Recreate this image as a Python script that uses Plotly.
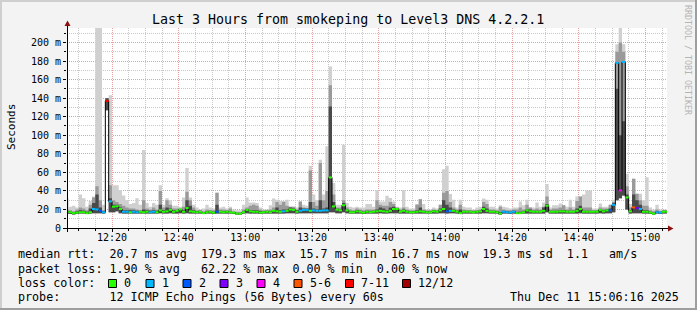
import plotly.graph_objects as go
import pandas as pd

# ---------------- data ----------------
TITLE = "Last 3 Hours from smokeping to Level3 DNS 4.2.2.1"
t_start = pd.Timestamp("2025-12-11 12:06:30")
t_end = pd.Timestamp("2025-12-11 15:06:30")

# median rtt per minute (ms)
median = [
    17.5, 17, 16, 16.5, 17, 17, 16, 17, 20.5, 20,
    18.5, 17, 137, 28.7, 23, 23.5, 20.5, 17.5, 17.5, 17,
    17.5, 17, 17.5, 17, 17.5, 17, 17.5, 17, 19, 17.5,
    18, 19.5, 17.5, 18.5, 20, 17.5, 21.5, 18, 17.5, 17,
    17.5, 16, 17, 17.5, 16.5, 17.5, 17.5, 17, 17.5, 17,
    16.5, 15.5, 15.5, 17, 19.5, 18, 17.5, 17.5, 16.5, 17,
    17.5, 17, 18.5, 18, 17.5, 18, 18.5, 20, 19.5, 17.5,
    18.5, 19.5, 19.5, 18.5, 19, 18.5, 18.5, 19, 19, 54.5,
    23.3, 19.8, 19, 24.5, 19, 17, 17, 18, 17.5, 16.5,
    17.5, 17, 17.5, 18, 18.5, 18, 17.5, 18.5, 20.5, 20.5,
    17.5, 18.5, 17.5, 17, 17, 17.5, 18, 17.5, 17, 17,
    18, 17.5, 19, 20.5, 18, 18.5, 18.5, 17.5, 16, 17.5,
    17.5, 17.5, 17, 17.5, 18, 20.5, 18.5, 17.5, 17.5, 17,
    15.5, 17.5, 17, 16.5, 17.5, 16, 16, 17, 19, 18,
    17.5, 17.5, 17.5, 18.5, 24, 17.5, 17.5, 17.5, 18, 18,
    17.5, 17.5, 17.5, 18.5, 20.5, 17.5, 17.5, 17.5, 17.5, 17.5,
    19.5, 18, 19, 19, 25, 178, 40.5, 179, 33, 18,
    22.2, 21.5, 20.5, 17.5, 17.5, 16.5, 15.5, 17, 16.5, 17.5,
    17.5,
]
# lost pings (of 12) per minute
loss = [
    0, 0, 0, 0, 0, 0, 0, 0, 1, 1,
    2, 1, 9, 1, 0, 0, 0, 1, 1, 0,
    1, 1, 0, 0, 0, 1, 1, 0, 0, 0,
    0, 0, 0, 0, 0, 0, 0, 0, 0, 0,
    0, 0, 0, 0, 0, 2, 0, 0, 0, 0,
    0, 0, 0, 0, 0, 0, 0, 0, 0, 0,
    0, 0, 0, 0, 0, 1, 0, 0, 0, 0,
    1, 1, 1, 0, 1, 1, 1, 1, 1, 0,
    0, 0, 0, 0, 0, 0, 0, 0, 0, 0,
    0, 0, 0, 0, 0, 0, 0, 0, 0, 0,
    0, 0, 0, 0, 0, 0, 0, 0, 0, 0,
    0, 0, 0, 0, 2, 1, 0, 0, 0, 0,
    0, 0, 0, 0, 0, 0, 0, 0, 0, 0,
    0, 1, 1, 1, 1, 0, 0, 0, 0, 0,
    0, 0, 0, 0, 0, 0, 0, 0, 0, 0,
    0, 0, 0, 0, 0, 0, 0, 0, 0, 0,
    0, 0, 0, 2, 1, 1, 4, 1, 0, 0,
    5, 3, 1, 0, 0, 0, 0, 1, 1, 0,
    0,
]
# fastest ping per minute (ms)
ping_min = [
    15.5, 15, 14.5, 15, 15.5, 15.5, 15, 15.5, 16, 16,
    16, 15.5, 127, 17, 17, 18, 16, 15.5, 15.5, 15.5,
    15.5, 15.5, 15.5, 15.5, 15.5, 15.5, 15.5, 15.5, 16, 15.5,
    15.5, 16, 15.5, 15.5, 16, 15.5, 16, 15.5, 15.5, 15.5,
    15.5, 15, 15.5, 15.5, 15, 15.5, 15.5, 15.5, 15.5, 15.5,
    15, 14.5, 14.5, 15.5, 16, 15.5, 15.5, 15.5, 15, 15.5,
    15.5, 15.5, 15.5, 15.5, 15.5, 15.5, 16, 16, 16, 15.5,
    16, 16, 16, 16, 16, 16, 16, 16, 16, 17,
    17, 16, 16, 17, 16, 15.5, 15.5, 15.5, 15.5, 15,
    15.5, 15.5, 15.5, 15.5, 16, 15.5, 15.5, 16, 16, 16,
    15.5, 15.5, 15.5, 15.5, 15.5, 15.5, 15.5, 15.5, 15.5, 15.5,
    15.5, 15.5, 16, 16, 15.5, 16, 16, 15.5, 15, 15.5,
    15.5, 15.5, 15.5, 15.5, 15.5, 16, 16, 15.5, 15.5, 15.5,
    14.5, 15.5, 15.5, 15, 15.5, 15, 15, 15.5, 15.5, 15.5,
    15.5, 15.5, 15.5, 15.5, 17, 15.5, 15.5, 15.5, 15.5, 15.5,
    15.5, 15.5, 15.5, 15.5, 16, 15.5, 15.5, 15.5, 15.5, 15.5,
    16, 15.5, 16, 16, 17, 30, 32, 35, 20, 15.5,
    16, 16, 16, 15.5, 15.5, 15, 14.5, 15.5, 15, 15.5,
    15.5,
]
# slowest ping per minute (outer, lightest smoke)
smoke_max = [
    32, 23, 24, 22, 36, 32, 23, 29, 34, 240,
    240, 25, 140, 143, 46, 46, 41, 35, 30, 26,
    27, 32, 25, 84, 27, 23, 27, 25, 46, 25,
    32, 30, 24, 24, 23, 33, 64.6, 33, 25, 22,
    20, 21, 25, 22, 21, 38, 22, 23, 21, 23,
    20, 19, 19, 25, 33, 27.6, 27.6, 27, 22, 20,
    20, 24.6, 31.8, 30.5, 29, 29, 30.5, 23, 23, 22,
    28.7, 25, 24, 67, 36, 30, 73.5, 36, 88, 174,
    48.5, 25, 25, 89.7, 27, 23, 22, 23, 22, 22,
    26, 26, 23, 40.6, 28.7, 28.7, 34.8, 32.3, 28.7, 23,
    22, 40.6, 23, 21, 21, 26, 31, 26, 20, 20,
    22, 21, 25, 63.4, 67, 36.6, 30.5, 22, 30.5, 23,
    22, 22, 20, 22, 23, 31.8, 30.5, 23, 23, 21,
    24.6, 23, 22, 21, 22, 22, 28.7, 24.6, 30.5, 22,
    22, 27.6, 23, 27.6, 47.3, 22, 24.6, 24.6, 26.5, 24.6,
    23, 30.5, 23, 34, 34, 36, 40.3, 40.3, 21, 21,
    26.5, 23, 23, 25, 30.5, 198, 240, 198, 58.6, 26,
    53, 37, 37, 30, 54.6, 22, 20, 25, 20, 20,
    20,
]
# middle smoke band upper edge
smoke_mid = [
    20, 19, 18, 20, 22, 21, 19, 25, 33, 45,
    30, 19, 140, 46, 30, 28, 26, 24, 22, 21,
    21, 20, 19, 30, 21, 20, 22, 20, 40, 22,
    30, 25, 21, 21, 21, 23, 39, 30, 22, 19,
    19, 18, 20, 19, 19, 38, 20, 20, 19, 21,
    18, 17, 17, 20, 22, 24, 25, 24, 20, 19,
    19, 20, 22, 28, 25, 28, 24, 23, 23, 20,
    28.7, 22, 21, 62, 28, 24, 70, 30, 40, 154,
    36, 22, 22, 30, 22, 20, 19, 21, 20, 19,
    20, 20, 20, 30, 25, 24, 24, 28, 26, 22,
    20, 22, 20, 19, 19, 25, 31, 20, 19, 19,
    20, 19, 25, 38, 40, 28, 22, 20, 25, 20,
    19, 19, 19, 19, 20, 28, 26, 20, 20, 19,
    23, 20, 19, 19, 20, 20, 22, 20, 25, 22,
    20, 21, 20, 23, 34, 20, 21, 21, 22, 24.6,
    20, 22, 20, 29, 34, 22, 22, 22, 19, 19,
    22, 21, 21, 25, 28, 190, 200, 190, 45, 22,
    53, 37, 30, 24, 24, 19, 18, 20, 18, 19,
    19,
]
# dark inner smoke band upper edge
smoke_inner = [
    18.5, 18, 17, 18, 19, 18.5, 17.5, 21, 27, 36,
    22, 18, 140, 32, 25, 25, 22, 19, 19, 19,
    19, 18.5, 18.5, 20, 19, 18.5, 19, 18.5, 25, 19,
    22, 21, 19, 19, 20.5, 19, 30, 24, 19, 18,
    18.5, 17, 18, 18.5, 17.5, 25, 18.5, 18, 18.5, 18,
    17, 16.5, 16.5, 18, 20.5, 19, 19, 19, 18, 18,
    18.5, 18, 19.5, 22, 19, 20, 20, 22, 21, 19,
    22, 21, 21, 28, 21, 20, 30, 21, 22, 131,
    28, 21, 20, 27, 20, 18, 18, 19, 18.5, 17.5,
    18.5, 18, 18.5, 20, 22, 21, 19, 22, 23, 21.5,
    18.5, 20, 18.5, 18, 18, 19, 22, 18.5, 18, 18,
    19, 18.5, 21, 30, 25, 22, 20, 18.5, 20, 18.5,
    18.5, 18.5, 18, 18.5, 19, 23, 21, 18.5, 18.5, 18,
    17, 18.5, 18, 17.5, 18.5, 17, 17.5, 18, 20, 20,
    18.5, 18.5, 18.5, 22, 26, 18.5, 18.5, 18.5, 19, 19.5,
    18.5, 18.5, 18.5, 21, 24, 18.5, 18.5, 18.5, 18.5, 18.5,
    20.5, 19, 20, 21, 27, 150, 100, 115, 36, 19,
    36, 30, 25, 19, 19, 17.5, 16.5, 18, 17.5, 18.5,
    18.5,
]

loss_labels = ["0", "1", "2", "3", "4", "5-6", "7-11", "12/12"]
loss_colors = ["#26ff00", "#00b8ff", "#0059ff", "#7e00ff", "#ff00ff", "#ff5500", "#ff0000", "#a10000"]
loss_low = [0, 1, 2, 3, 4, 5, 7, 12]
loss_high = [0, 1, 2, 3, 4, 6, 11, 12]

y_tick_vals = [0, 20, 40, 60, 80, 100, 120, 140, 160, 180, 200]
y_tick_text = ["0", "20 m", "40 m", "60 m", "80 m", "100 m", "120 m", "140 m", "160 m", "180 m", "200 m"]

line_rtt = "median rtt:  20.7 ms avg  179.3 ms max  15.7 ms min  16.7 ms now  19.3 ms sd  1.1   am/s"
line_loss = "packet loss: 1.90 % avg   62.22 % max  0.00 % min  0.00 % now"
line_color = "loss color:"
line_probe = "probe:       12 ICMP Echo Pings (56 Bytes) every 60s"
stamp = "Thu Dec 11 15:06:16 2025"
watermark = "RRDTOOL / TOBI OETIKER"

# ---------------- figure ----------------
times = pd.date_range(t_start, periods=len(median), freq="min")
W, H = 697, 310
PL, PR, PT, PB = 67, 667, 28, 228
MONO = "DejaVu Sans Mono"


def pxx(x):
    return (x - PL) / (PR - PL)


def pxy(y):
    return (PB - y) / (PB - PT)


fig = go.Figure()

layers = [(smoke_max, "#d0d0d0"), (smoke_mid, "#9a9a9a"), (smoke_inner, "#4a4a4a")]
for hi, col in layers:
    fig.add_trace(go.Scatter(x=times, y=ping_min, mode="lines",
                             line=dict(width=0, shape="hvh"), hoverinfo="skip"))
    fig.add_trace(go.Scatter(x=times, y=hi, mode="lines",
                             line=dict(width=0, shape="hvh"), fill="tonexty",
                             fillcolor=col, hoverinfo="skip"))

fig.add_trace(go.Scatter(x=times, y=median, mode="lines",
                         line=dict(color="black", width=1, shape="hvh"), hoverinfo="skip"))

half = pd.Timedelta(seconds=30)
for lab, col, lo_n, hi_n in zip(loss_labels, loss_colors, loss_low, loss_high):
    xs, ys = [], []
    for t, m, n in zip(times, median, loss):
        if lo_n <= n <= hi_n:
            xs += [t - half, t + half, None]
            ys += [m, m, None]
    if xs:
        fig.add_trace(go.Scatter(x=xs, y=ys, mode="lines",
                                 line=dict(color=col, width=2), hoverinfo="skip"))

MAJOR = "#e6a0a0"
MINOR = "#c8c8c8"

fig.update_layout(
    width=W, height=H,
    margin=dict(l=PL, r=W - PR, t=PT, b=H - PB),
    paper_bgcolor="#f3f3f3", plot_bgcolor="white",
    showlegend=False,
    font=dict(family=MONO, size=10, color="black"),
)
fig.update_xaxes(
    type="date", range=[t_start, t_end],
    tick0="2025-12-11 12:00:00", dtick=20 * 60 * 1000, tickformat="%H:%M",
    showgrid=True, gridcolor=MAJOR, gridwidth=1, griddash="1px,1px",
    ticks="outside", ticklen=3, tickcolor="black", tickwidth=1,
    ticklabelstandoff=-3,
    tickfont=dict(family=MONO, size=10, color="black"),
    showline=False, zeroline=False,
    minor=dict(tick0="2025-12-11 12:00:00", dtick=5 * 60 * 1000, showgrid=True,
               gridcolor=MINOR, gridwidth=1, griddash="1px,1px",
               ticks="outside", ticklen=2, tickcolor="black"),
)
fig.update_yaxes(
    range=[0, 215.6], tickmode="array", tickvals=y_tick_vals, ticktext=y_tick_text,
    showgrid=True, gridcolor=MAJOR, gridwidth=1, griddash="1px,1px",
    ticks="outside", ticklen=3, tickcolor="black", tickwidth=1,
    tickfont=dict(family=MONO, size=10, color="black"),
    showline=False, zeroline=False,
    minor=dict(tickmode="linear", tick0=0, dtick=10, showgrid=True,
               gridcolor=MINOR, gridwidth=1, griddash="1px,1px",
               ticks="outside", ticklen=2, tickcolor="black"),
)

shapes = []
# 3D frame
shapes.append(dict(type="rect", xref="paper", yref="paper", x0=pxx(0), x1=pxx(W), y0=pxy(0), y1=pxy(2),
                   fillcolor="#cfcfcf", line=dict(width=0), layer="above"))
shapes.append(dict(type="rect", xref="paper", yref="paper", x0=pxx(0), x1=pxx(2), y0=pxy(0), y1=pxy(H),
                   fillcolor="#cfcfcf", line=dict(width=0), layer="above"))
shapes.append(dict(type="rect", xref="paper", yref="paper", x0=pxx(W - 2), x1=pxx(W), y0=pxy(0), y1=pxy(H),
                   fillcolor="#9e9e9e", line=dict(width=0), layer="above"))
shapes.append(dict(type="rect", xref="paper", yref="paper", x0=pxx(0), x1=pxx(W), y0=pxy(H - 2), y1=pxy(H),
                   fillcolor="#9e9e9e", line=dict(width=0), layer="above"))
# axis lines
shapes.append(dict(type="line", xref="paper", yref="paper", x0=pxx(63), x1=pxx(670), y0=pxy(228.5), y1=pxy(228.5),
                   line=dict(color="black", width=1), layer="above"))
shapes.append(dict(type="line", xref="paper", yref="paper", x0=pxx(67.5), x1=pxx(67.5), y0=pxy(232), y1=pxy(25),
                   line=dict(color="black", width=1), layer="above"))
# arrows
ARROW = "#8b1010"
shapes.append(dict(type="path", xref="paper", yref="paper",
                   path=f"M {pxx(668)},{pxy(225.5)} L {pxx(673.5)},{pxy(228.5)} L {pxx(668)},{pxy(231.5)} Z",
                   fillcolor=ARROW, line=dict(width=0), layer="above"))
shapes.append(dict(type="path", xref="paper", yref="paper",
                   path=f"M {pxx(64.5)},{pxy(26)} L {pxx(67.5)},{pxy(20.5)} L {pxx(70.5)},{pxy(26)} Z",
                   fillcolor=ARROW, line=dict(width=0), layer="above"))
# loss colour boxes
box_x = [108, 145.5, 182.5, 219.5, 256.5, 293.5, 345, 402]
for bx, col in zip(box_x, loss_colors):
    shapes.append(dict(type="rect", xref="paper", yref="paper",
                       x0=pxx(bx + 0.5), x1=pxx(bx + 8.5), y0=pxy(279.5), y1=pxy(287.5),
                       fillcolor=col, line=dict(color="black", width=1), layer="above"))
fig.update_layout(shapes=shapes)

annotations = []


def ann(x, y, text, size=11.7, color="black", xanchor="left", angle=0):
    annotations.append(dict(xref="paper", yref="paper", x=pxx(x), y=pxy(y),
                            text=text.replace(" ", "\u00a0"), showarrow=False,
                            xanchor=xanchor, yanchor="middle", textangle=angle,
                            font=dict(family=MONO, size=size, color=color)))


ann(348, 19, TITLE, size=13.3, xanchor="center")
ann(11, 127, "Seconds", size=11, xanchor="center", angle=-90)
ann(688, 60, watermark, size=8.3, color="#b4b4b4", xanchor="center", angle=90)
ann(16, 254, line_rtt)
ann(16, 268.5, line_loss)
ann(16, 283, line_color)
for bx, lab in zip(box_x, loss_labels):
    ann(bx + 14, 283, lab)
ann(16, 297, line_probe)
ann(681, 297, stamp, xanchor="right")
fig.update_layout(annotations=annotations)

fig.write_html("out.html")
